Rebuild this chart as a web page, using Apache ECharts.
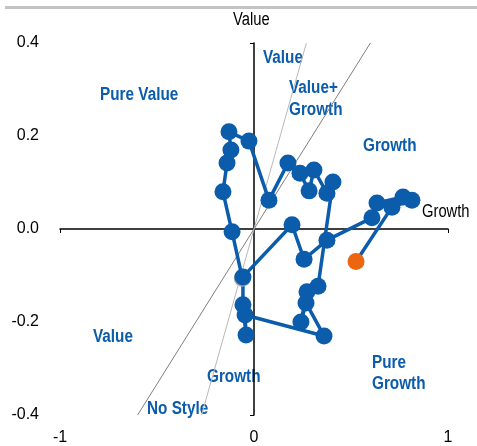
<!DOCTYPE html>
<html>
<head>
<meta charset="utf-8">
<style>
  html, body { margin: 0; padding: 0; background: #fff; }
  #chart { width: 477px; height: 446px; }
</style>
<script src="https://cdn.jsdelivr.net/npm/echarts@6/dist/echarts.min.js"></script>
</head>
<body>
<div id="chart"></div>
<script>
  // style path, oldest point first, latest last
  const growth = [-0.06, -0.113, -0.160, -0.139, -0.119, -0.129, -0.026, 0.077, 0.175, 0.237, 0.284, 0.309, 0.376, 0.407, 0.330, 0.273,
    0.242, 0.268, 0.361, -0.046, -0.041, -0.057, -0.057, 0.196, 0.258, 0.376, 0.608, 0.634, 0.768, 0.814, 0.711, 0.526]
  const value = [-0.106, -0.006, 0.080, 0.142, 0.170, 0.209, 0.189, 0.062, 0.142, 0.120, 0.082, 0.127, 0.077, 0.101, -0.123, -0.135,
    -0.200, -0.159, -0.230, -0.185, -0.228, -0.163, -0.103, 0.009, -0.065, -0.024, 0.024, 0.056, 0.069, 0.062, 0.047, -0.070]

  // the two boundary lines through the origin
  const boundaryOuter = [[-0.6, -0.4], [0.6, 0.4]]
  const boundaryInner = [[-0.27, -0.4], [0.27, 0.4]]

  const xTicks = [-1, 0, 1]
  const yTicks = [-0.4, -0.2, 0, 0.2, 0.4]

  const blue = '#0b5cab'
  const orange = '#ec650f'
  const font = '"Liberation Sans", Arial, sans-serif'

  const pathData = growth.map((g, i) => {
    let item = { value: [g, value[i]] }
    if (i === 0) item.itemStyle = { color: '#a6a6a6' }
    if (i === growth.length - 1) item.itemStyle = { color: orange }
    return item
  })

  // narrow-looking text: squeeze horizontally from the left edge
  function label(x, y, text, color, bold, lh) {
    return {
      type: 'text', x: x, y: y, scaleX: bold ? 0.85 : 0.82, originX: 0, originY: 0,
      style: {
        text: text, fill: color, font: (bold ? 'bold ' : '') + '18px ' + font,
        verticalAlign: 'middle', lineHeight: lh || 20
      }
    }
  }

  let myChart = echarts.init(document.getElementById('chart'))
  myChart.setOption({
    animation: false,
    grid: { left: 60, right: 29, top: 43, bottom: 31 },
    xAxis: [{
      type: 'value', min: -1, max: 1, interval: 1, position: 'bottom',
      axisLine: { show: false, onZero: false },
      axisTick: { show: false },
      splitLine: { show: false },
      axisLabel: {
        margin: 15, color: '#000', fontSize: 16, fontFamily: font,
        customValues: xTicks
      }
    }, {
      type: 'value', min: -1, max: 1, position: 'bottom',
      axisLine: { onZero: true, onZeroAxisIndex: 0, lineStyle: { color: '#000', width: 1.5 } },
      axisTick: { show: true, length: 4, customValues: [-1, 1], lineStyle: { color: '#000' } },
      axisLabel: { show: false },
      splitLine: { show: false }
    }],
    yAxis: [{
      type: 'value', min: -0.4, max: 0.4, interval: 0.2, position: 'left',
      axisLine: { show: false, onZero: false },
      axisTick: { show: false },
      splitLine: { show: false },
      axisLabel: {
        margin: 21, color: '#000', fontSize: 16, fontFamily: font,
        customValues: yTicks,
        formatter: v => v.toFixed(1)
      }
    }, {
      type: 'value', min: -0.4, max: 0.4, position: 'left',
      axisLine: { onZero: true, onZeroAxisIndex: 0, lineStyle: { color: '#000', width: 1.5 } },
      axisTick: { show: true, length: 4, customValues: [-0.4, 0.4], lineStyle: { color: '#000' } },
      axisLabel: { show: false },
      splitLine: { show: false }
    }],
    graphic: [
      { type: 'rect', left: 5, top: 6, shape: { width: 472, height: 3 }, style: { fill: '#c3c3c3' } },
      label(233, 20, 'Value', '#000', false),
      label(422, 212, 'Growth', '#000', false),
      label(100, 95.5, 'Pure Value', blue, true),
      label(263, 58, 'Value', blue, true),
      label(289, 99, 'Value+\nGrowth', blue, true, 22),
      label(363, 146, 'Growth', blue, true),
      label(93, 337, 'Value', blue, true),
      label(207, 377, 'Growth', blue, true),
      label(147, 409, 'No Style', blue, true),
      label(372, 373.5, 'Pure\nGrowth', blue, true, 21)
    ],
    series: [{
      type: 'line', silent: true, symbol: 'none',
      lineStyle: { color: '#7f7f7f', width: 1 },
      data: boundaryOuter
    }, {
      type: 'line', silent: true, symbol: 'none',
      lineStyle: { color: '#b8b8b8', width: 1 },
      data: boundaryInner
    }, {
      type: 'line',
      symbol: 'circle', symbolSize: 17, showAllSymbol: true,
      lineStyle: { color: blue, width: 3.5 },
      itemStyle: { color: blue },
      data: pathData
    }]
  })
</script>
</body>
</html>
